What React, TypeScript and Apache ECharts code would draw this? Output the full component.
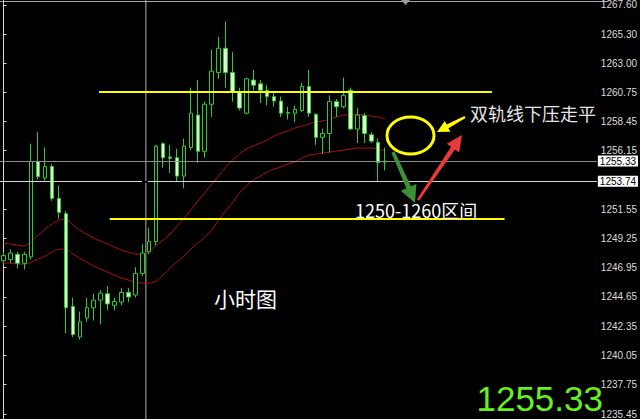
import React, { useEffect, useRef } from "react";
import * as echarts from "echarts";

// ---- data ----
const categories: string[] = Array.from({ length: 86 }, (_, i) => `H${i}`);

// [open, close, low, high]
const candles: number[][] = [
  [1247.5, 1247.9, 1247.2, 1248.2],
  [1247.6, 1248.1, 1247.3, 1248.4],
  [1248.0, 1247.3, 1246.9, 1248.2],
  [1247.3, 1248.0, 1246.8, 1248.2],
  [1247.8, 1255.3, 1247.6, 1256.7],
  [1255.3, 1254.1, 1253.9, 1257.6],
  [1254.0, 1254.9, 1253.8, 1256.4],
  [1254.9, 1252.4, 1252.2, 1255.1],
  [1252.4, 1251.3, 1250.8, 1253.4],
  [1251.2, 1243.8, 1241.8, 1251.4],
  [1243.9, 1241.7, 1241.5, 1244.6],
  [1241.5, 1242.7, 1241.3, 1243.5],
  [1243.0, 1243.8, 1242.7, 1244.6],
  [1243.8, 1244.4, 1242.8, 1244.9],
  [1244.4, 1244.95, 1242.5, 1245.2],
  [1244.9, 1244.1, 1243.6, 1245.5],
  [1244.0, 1244.3, 1243.6, 1244.6],
  [1244.25, 1245.0, 1244.0, 1245.35],
  [1245.0, 1244.65, 1244.25, 1245.35],
  [1244.8, 1246.5, 1244.6, 1247.0],
  [1246.5, 1248.1, 1246.3, 1248.8],
  [1248.2, 1249.0, 1248.0, 1250.1],
  [1249.0, 1256.5, 1248.7, 1256.6],
  [1256.7, 1255.6, 1254.8, 1256.8],
  [1255.65, 1255.55, 1254.4, 1256.6],
  [1255.6, 1254.15, 1253.7, 1256.3],
  [1254.15, 1256.5, 1253.2, 1257.1],
  [1256.4, 1259.1, 1256.2, 1261.1],
  [1258.95, 1256.1, 1255.2, 1261.7],
  [1256.1, 1259.8, 1255.6, 1260.0],
  [1259.8, 1262.4, 1258.8, 1264.1],
  [1262.3, 1264.2, 1261.8, 1265.1],
  [1264.2, 1262.3, 1261.1, 1266.3],
  [1262.3, 1260.8, 1260.0, 1263.9],
  [1260.8, 1259.5, 1259.3, 1261.1],
  [1259.1, 1261.8, 1259.0, 1261.9],
  [1261.7, 1261.3, 1260.9, 1262.5],
  [1261.4, 1260.9, 1259.9, 1261.7],
  [1260.9, 1260.4, 1259.7, 1261.3],
  [1260.4, 1260.05, 1259.6, 1260.7],
  [1260.05, 1259.1, 1258.8, 1260.4],
  [1259.1, 1259.15, 1258.6, 1259.6],
  [1259.1, 1259.4, 1258.4, 1259.7],
  [1259.3, 1261.2, 1259.2, 1261.5],
  [1261.2, 1259.1, 1258.8, 1262.5],
  [1259.0, 1257.2, 1256.6, 1259.1],
  [1257.2, 1257.5, 1255.9, 1257.9],
  [1257.5, 1260.0, 1256.0, 1260.5],
  [1260.0, 1259.6, 1258.8, 1260.2],
  [1259.6, 1260.5, 1259.5, 1261.9],
  [1260.9, 1257.85, 1257.8, 1261.1],
  [1257.85, 1258.95, 1256.75, 1259.5],
  [1258.9, 1257.5, 1256.75, 1259.1],
  [1257.4, 1256.9, 1256.75, 1257.6],
  [1256.8, 1255.2, 1253.7, 1257.1],
  [1255.25, 1255.33, 1254.6, 1256.4],
];

const upperMA: number[] = [
  1248.89, 1248.81, 1248.73, 1248.65, 1249.04, 1249.51, 1249.99, 1250.38, 1250.69, 1250.77,
  1250.3, 1249.91, 1249.59, 1249.28, 1249.04, 1248.81, 1248.57, 1248.33, 1248.18, 1248.02,
  1248.02, 1248.18, 1248.73, 1249.12, 1249.59, 1250.22, 1250.85, 1251.48, 1252.19, 1252.82,
  1253.52, 1254.15, 1254.86, 1255.41, 1255.88, 1256.28, 1256.51, 1256.75, 1256.98, 1257.3,
  1257.53, 1257.69, 1257.93, 1258.08, 1258.24, 1258.4, 1258.48, 1258.63, 1258.79, 1258.95,
  1258.95, 1259.03, 1258.95, 1258.87, 1258.79, 1258.63,
];

const lowerMA: number[] = [
  1247.31, 1247.31, 1247.23, 1247.23, 1247.39, 1247.63, 1247.86, 1248.18, 1248.41, 1248.41,
  1248.02, 1247.71, 1247.39, 1247.08, 1246.84, 1246.61, 1246.37, 1246.13, 1245.98, 1245.82,
  1245.74, 1245.74, 1245.9, 1246.37, 1246.92, 1247.39, 1247.86, 1248.41, 1248.89, 1249.36,
  1249.91, 1250.69, 1251.4, 1252.03, 1252.82, 1253.37, 1253.84, 1254.15, 1254.47, 1254.7,
  1254.86, 1255.1, 1255.25, 1255.57, 1255.8, 1255.88, 1255.96, 1256.04, 1256.12, 1256.2,
  1256.28, 1256.35, 1256.35, 1256.35, 1256.28, 1256.12,
];

const yTicks: number[] = [
  1267.6, 1265.3, 1263.0, 1260.75, 1258.45, 1256.15, 1251.55, 1249.25, 1246.95, 1244.65,
  1242.35, 1240.05, 1237.75, 1235.45,
];

const yMin = 1235.06;
const yMax = 1267.99;
const bidPrice = 1255.33;
const levelPrice = 1253.74;
const zoneTop = 1260.76;
const zoneBottom = 1250.77;
const zoneTopSpan: number[] = [13.78, 70.38];
const zoneBottomSpan: number[] = [15.32, 72.2];
const separatorX = 20.52;

const cjk = '"Noto Sans CJK SC", "Noto Sans", sans-serif';

export default function App() {
  const ref = useRef<HTMLDivElement>(null);

  useEffect(() => {
    if (!ref.current) return;
    const chart = echarts.init(ref.current, undefined, { renderer: "svg" });

    const priceLabel = (v: number) => ({
      show: true,
      position: "end",
      distance: 1,
      formatter: v.toFixed(2),
      backgroundColor: "#ffffff",
      color: "#000000",
      fontSize: 10,
      fontFamily: "Liberation Sans, Arial, sans-serif",
      padding: [1, 2, 0, 2],
    });

    chart.setOption({
      animation: false,
      backgroundColor: "#000000",
      grid: { left: -4.66, right: 32.34, top: 0, bottom: 0, containLabel: false },
      xAxis: [
        {
          type: "category",
          data: categories,
          boundaryGap: true,
          show: false,
        },
        {
          type: "value",
          min: -0.5,
          max: 85.5,
          show: false,
        },
      ],
      yAxis: {
        type: "value",
        position: "right",
        min: yMin,
        max: yMax,
        scale: true,
        splitLine: { show: false },
        axisLine: { show: true, lineStyle: { color: "#d8d8d8", width: 1 } },
        axisTick: {
          show: true,
          inside: false,
          length: 3,
          lineStyle: { color: "#d8d8d8" },
          customValues: yTicks,
        },
        axisLabel: {
          color: "#dcdcdc",
          fontSize: 10,
          fontFamily: "Liberation Sans, Arial, sans-serif",
          margin: 4,
          customValues: yTicks,
          formatter: (v: number) => v.toFixed(2),
        },
      },
      series: [
        {
          type: "line",
          xAxisIndex: 1,
          data: [
            [separatorX, yMin],
            [separatorX, yMax],
          ],
          symbol: "none",
          lineStyle: { color: "#b0b0b0", width: 1 },
          z: 1,
          silent: true,
        },
        {
          type: "line",
          data: upperMA,
          symbol: "none",
          smooth: 0.3,
          lineStyle: { color: "#b01010", width: 1 },
          z: 2,
          silent: true,
        },
        {
          type: "line",
          data: lowerMA,
          symbol: "none",
          smooth: 0.3,
          lineStyle: { color: "#b01010", width: 1 },
          z: 2,
          silent: true,
        },
        {
          type: "candlestick",
          data: candles,
          barWidth: 4,
          z: 3,
          itemStyle: {
            color: "#000000",
            color0: "#dcffd2",
            borderColor: "#2ecc2e",
            borderColor0: "#2ecc2e",
            borderWidth: 1,
          },
          markLine: {
            symbol: ["none", "none"],
            silent: true,
            z: 4,
            data: [
              {
                yAxis: bidPrice,
                lineStyle: { color: "#8c8c8c", width: 1, type: "solid" },
                label: priceLabel(bidPrice),
              },
              {
                yAxis: levelPrice,
                lineStyle: { color: "#d8d8d8", width: 1, type: "solid" },
                label: priceLabel(levelPrice),
              },
            ],
          },
        },
        {
          type: "line",
          xAxisIndex: 1,
          data: [
            [zoneTopSpan[0], zoneTop],
            [zoneTopSpan[1], zoneTop],
          ],
          symbol: "none",
          lineStyle: { color: "#ffff00", width: 2 },
          z: 5,
          silent: true,
        },
        {
          type: "line",
          xAxisIndex: 1,
          data: [
            [zoneBottomSpan[0], zoneBottom],
            [zoneBottomSpan[1], zoneBottom],
          ],
          symbol: "none",
          lineStyle: { color: "#ffff00", width: 2 },
          z: 5,
          silent: true,
        },
      ],
      graphic: [
        {
          type: "line",
          shape: { x1: 0, y1: 1.5, x2: 607, y2: 1.5 },
          style: { stroke: "#a8a8a8", lineWidth: 1 },
          silent: true,
        },
        {
          type: "polygon",
          shape: { points: [[401, 0], [410, 0], [405.5, 5]] },
          style: { fill: "#9a9a9a" },
          silent: true,
        },
        {
          type: "line",
          shape: { x1: 142, y1: 182, x2: 148, y2: 182 },
          style: { stroke: "#000000", lineWidth: 2 },
          z: 10,
          silent: true,
        },
        {
          type: "ellipse",
          shape: { cx: 410.5, cy: 135.5, rx: 23.5, ry: 18.5 },
          style: { fill: "none", stroke: "#ffff00", lineWidth: 3 },
          z: 10,
          silent: true,
        },
        {
          type: "polygon",
          shape: {
            points: [
              [437, 132], [450.4, 131.7], [448.5, 128.2], [465.5, 117.9],
              [464.5, 116.1], [446.7, 124.6], [444.8, 121.1],
            ],
          },
          style: { fill: "#ffff00" },
          z: 10,
          silent: true,
        },
        {
          type: "polygon",
          shape: {
            points: [
              [415, 203], [416.4, 184.1], [410.9, 186.3], [394.6, 151.2],
              [391.4, 152.8], [406.3, 188.3], [400.8, 190.7],
            ],
          },
          style: { fill: "#3e8e3a" },
          z: 10,
          silent: true,
        },
        {
          type: "polygon",
          shape: {
            points: [
              [462, 135], [459.2, 152.6], [454.9, 149.6], [419.0, 200.8],
              [417.0, 199.2], [451.1, 146.8], [446.8, 143.8],
            ],
          },
          style: { fill: "#e83a3a" },
          z: 10,
          silent: true,
        },
        {
          type: "text",
          x: 470,
          y: 113,
          style: {
            text: "双轨线下压走平",
            fill: "#e6e6e6",
            fontSize: 18,
            fontFamily: cjk,
            textVerticalAlign: "middle",
          },
          z: 10,
          silent: true,
        },
        {
          type: "text",
          x: 355,
          y: 210,
          style: {
            text: "1250-1260区间",
            fill: "#ffffff",
            fontSize: 18,
            fontFamily: cjk,
            textVerticalAlign: "middle",
          },
          z: 10,
          silent: true,
        },
        {
          type: "text",
          x: 214,
          y: 298,
          style: {
            text: "小时图",
            fill: "#ffffff",
            fontSize: 21,
            fontFamily: cjk,
            textVerticalAlign: "middle",
          },
          z: 10,
          silent: true,
        },
        {
          type: "text",
          x: 603,
          y: 416,
          style: {
            text: "1255.33",
            fill: "#66f020",
            fontSize: 35,
            fontFamily: "Liberation Sans, Arial, sans-serif",
            textAlign: "right",
            textVerticalAlign: "bottom",
          },
          z: 10,
          silent: true,
        },
      ],
    });

    return () => chart.dispose();
  }, []);

  return (
    <div
      ref={ref}
      style={{ position: "fixed", left: 0, top: 0, width: 640, height: 419, background: "#000" }}
    />
  );
}
